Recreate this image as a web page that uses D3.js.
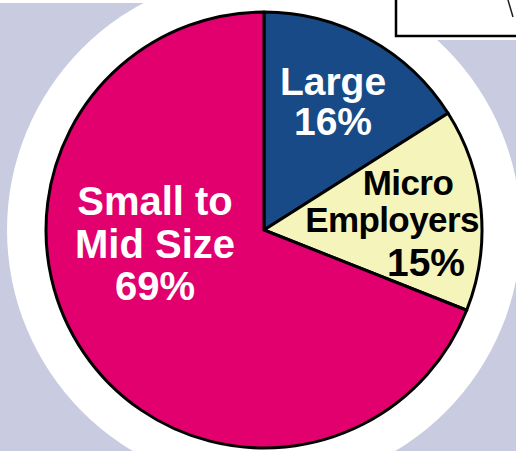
<!DOCTYPE html>
<html lang="en">
<head>
    <meta charset="UTF-8">
    <title>Employer Size Pie</title>
    <style>
        body {
            margin: 0;
            background: #ffffff;
        }
        svg {
            display: block;
        }
        .label {
            font-family: 'Liberation Sans', Arial, sans-serif;
            font-weight: bold;
            text-anchor: middle;
        }
    </style>
    <script src="https://d3js.org/d3.v7.min.js"></script>
</head>
<body>
    <svg id="chart" width="516" height="451"></svg>

    <script>
        // chart data
        const categories = ["Large", "Micro Employers", "Small to Mid Size"];
        const shares = [16, 15, 69];
        const sliceColors = ["#174a87", "#f5f5bb", "#e2006f"];
        const labelLines = [["Large", "16%"], ["Micro", "Employers", "15%"], ["Small to", "Mid Size", "69%"]];

        const width = 516, height = 451;
        const cx = 264, cy = 230, radius = 218;

        const svg = d3.select("#chart");

        // background: lavender panel with a white halo around the pie
        svg.append("rect")
            .attr("x", 0).attr("y", 3)
            .attr("width", width).attr("height", height)
            .attr("fill", "#c9cce0");

        svg.append("circle")
            .attr("cx", cx).attr("cy", cy)
            .attr("r", 257)
            .attr("fill", "#ffffff");

        // box in top right corner
        svg.append("rect")
            .attr("x", 384).attr("y", -10)
            .attr("width", 150).attr("height", 50)
            .attr("fill", "#ffffff");
        svg.append("rect")
            .attr("x", 396).attr("y", -10)
            .attr("width", 140).attr("height", 46)
            .attr("fill", "#ffffff")
            .attr("stroke", "#000")
            .attr("stroke-width", 2.5);
        svg.append("line")
            .attr("x1", 508).attr("y1", 0)
            .attr("x2", 513).attr("y2", 17)
            .attr("stroke", "#222")
            .attr("stroke-width", 1.5);

        const pie = d3.pie().sort(null).value(d => d);
        const arcs = pie(shares);
        const arc = d3.arc().innerRadius(0).outerRadius(radius);

        const g = svg.append("g").attr("transform", `translate(${cx},${cy})`);

        g.selectAll("path.slice")
            .data(arcs)
            .join("path")
            .attr("class", "slice")
            .attr("d", arc)
            .attr("fill", (d, i) => sliceColors[i])
            .attr("stroke", "#000")
            .attr("stroke-width", 3)
            .attr("stroke-linejoin", "round");

        // label placement (offsets from centre, font sizes)
        const labelPos = [
            { x: 69, y: -135, size: 39, gap: 40, fill: "#fff", dx: [0, 0], spacing: 0 },
            { x: 144, y: -35, size: 35, gap: 37, fill: "#000", dx: [0, -16, 18], spacing: -0.6 },
            { x: -109, y: -15, size: 40, gap: 42.5, fill: "#fff", dx: [0, 0, 0], spacing: 0 }
        ];

        labelLines.forEach((lines, i) => {
            const p = labelPos[i];
            const t = g.append("text")
                .attr("class", "label")
                .attr("fill", p.fill);
            lines.forEach((line, j) => {
                const isPct = line.includes("%");
                t.append("tspan")
                    .attr("x", p.x + (p.dx[j] || 0))
                    .attr("y", p.y + j * p.gap + (isPct && i === 1 ? 7 : 0))
                    .attr("font-size", isPct && i === 1 ? 39 : p.size)
                    .attr("letter-spacing", isPct ? 0 : p.spacing)
                    .text(line);
            });
        });
    </script>
</body>
</html>
